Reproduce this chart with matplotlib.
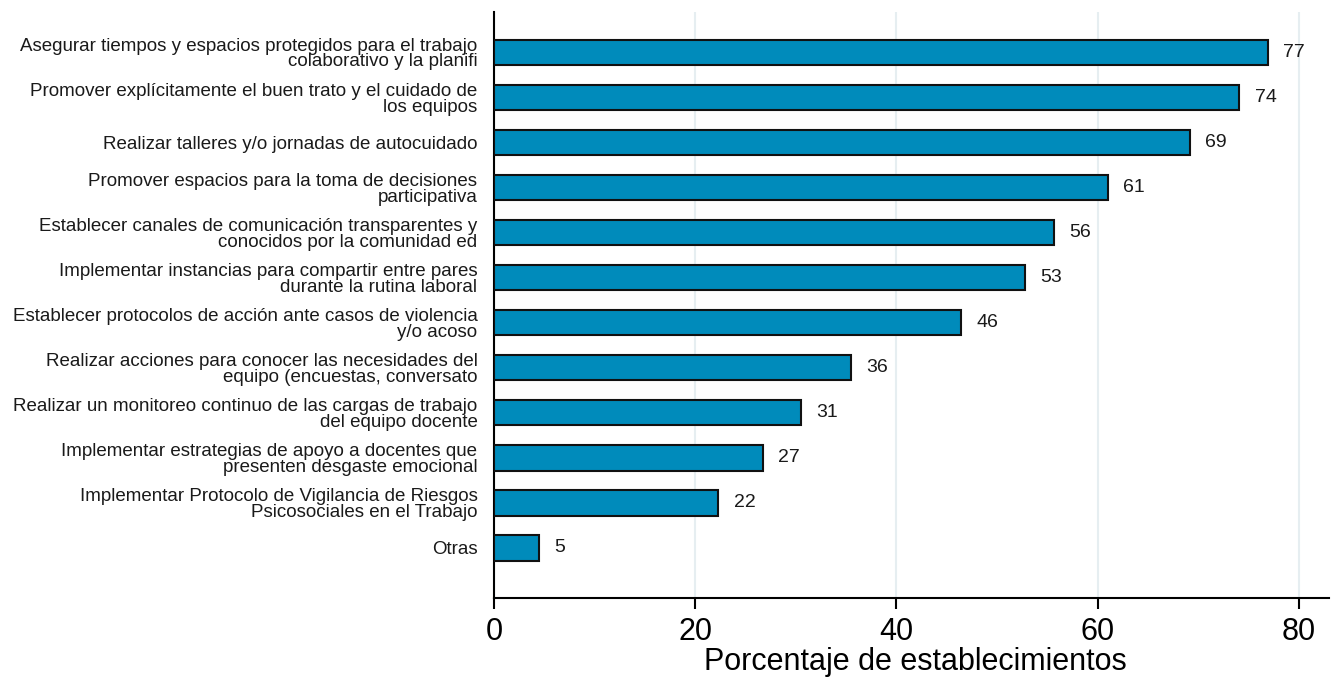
import matplotlib.pyplot as plt
import numpy as np

plt.rcParams['font.family'] = ['Liberation Sans', 'DejaVu Sans']

# categories top to bottom
categorias = [
    "Asegurar tiempos y espacios protegidos para el trabajo\ncolaborativo y la planifi",
    "Promover explícitamente el buen trato y el cuidado de\nlos equipos",
    "Realizar talleres y/o jornadas de autocuidado",
    "Promover espacios para la toma de decisiones\nparticipativa",
    "Establecer canales de comunicación transparentes y\nconocidos por la comunidad ed",
    "Implementar instancias para compartir entre pares\ndurante la rutina laboral",
    "Establecer protocolos de acción ante casos de violencia\ny/o acoso",
    "Realizar acciones para conocer las necesidades del\nequipo (encuestas, conversato",
    "Realizar un monitoreo continuo de las cargas de trabajo\ndel equipo docente",
    "Implementar estrategias de apoyo a docentes que\npresenten desgaste emocional",
    "Implementar Protocolo de Vigilancia de Riesgos\nPsicosociales en el Trabajo",
    "Otras",
]
valores = [76.9, 74.1, 69.2, 61.0, 55.7, 52.8, 46.4, 35.5, 30.5, 26.7, 22.3, 4.5]
etiquetas = ["77", "74", "69", "61", "56", "53", "46", "36", "31", "27", "22", "5"]

fig = plt.figure(figsize=(13.31, 6.77), dpi=100)
ax = fig.add_axes([0.3712, 0.1167, 0.6273, 0.8656])

y = np.arange(len(categorias))
barras = ax.barh(y, valores, height=0.56, color='#008bbb', edgecolor='#111111', linewidth=1.5, zorder=3)
ax.bar_label(barras, labels=etiquetas, padding=11, fontsize=14, color='#1a1a1a')

ax.set_ylim(len(categorias) - 1 + 1.11, -0.9)
ax.set_xlim(0, 83)
ax.set_yticks(y)
ax.set_yticklabels(categorias, fontsize=13.5, color='#1a1a1a', linespacing=0.92)
ax.tick_params(axis='y', length=0, pad=12)
ax.set_xticks([0, 20, 40, 60, 80])
ax.tick_params(axis='x', labelsize=22, length=8, width=1.5, pad=6)

ax.grid(axis='x', color='#e6eef1', linewidth=1.5, zorder=0)
ax.spines['top'].set_visible(False)
ax.spines['right'].set_visible(False)
ax.spines['left'].set_linewidth(1.5)
ax.spines['bottom'].set_linewidth(1.5)

ax.set_xlabel('Porcentaje de establecimientos', fontsize=22, labelpad=0, x=0.505)

fig.savefig('out.png', dpi=100)
